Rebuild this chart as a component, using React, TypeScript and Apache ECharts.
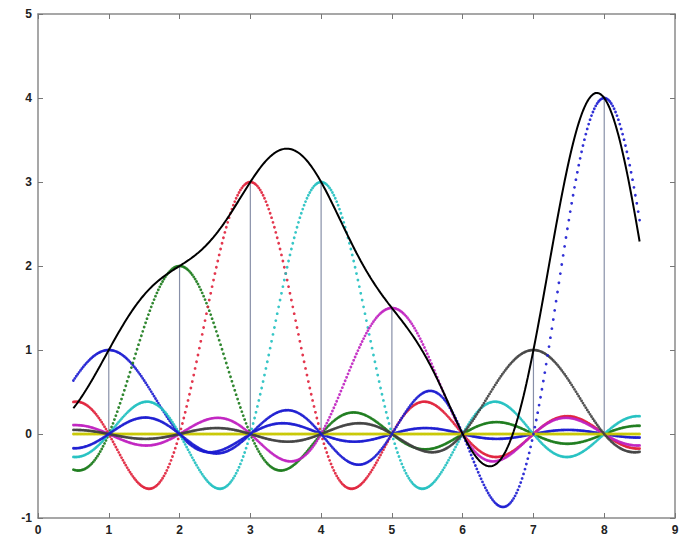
import React, { useEffect, useRef } from "react";
import * as echarts from "echarts";

// Sample positions and sample values (read from the stems)
const sampleX = [1, 2, 3, 4, 5, 6, 7, 8];
const sampleY = [1, 2, 3, 3, 1.5, 0, 1, 4];
// MATLAB classic colour order used for each sample's sinc component
const componentColors = ["#1a1ad0", "#1a7a1a", "#e0203a", "#20c0c0", "#c020c0", "#c8c800", "#404040", "#1a1ad0"];
// reconstruction range and resolution
const xStart = 0.5;
const xEnd = 8.5;
const xStep = 0.02;
const xTicks = [0, 1, 2, 3, 4, 5, 6, 7, 8, 9];
const yTicks = [-1, 0, 1, 2, 3, 4, 5];

const sinc = (t: number) => (Math.abs(t) < 1e-9 ? 1 : Math.sin(Math.PI * t) / (Math.PI * t));

export default function App() {
  const ref = useRef<HTMLDivElement>(null);
  useEffect(() => {
    if (!ref.current) return;
    const chart = echarts.init(ref.current, undefined, { renderer: "svg" });
    const n = Math.round((xEnd - xStart) / xStep);
    const xs: number[] = [];
    for (let i = 0; i <= n; i++) xs.push(+(xStart + i * xStep).toFixed(4));

    const components = sampleX.map((k, i) => xs.map((x) => [x, sampleY[i] * sinc(x - k)]));
    const sum = xs.map((x, j) => [x, components.reduce((s, c) => s + c[j][1], 0)]);

    const axisLabel = { color: "#222", fontSize: 12, fontFamily: "Liberation Sans, Arial, sans-serif", fontWeight: "bold" as const };
    const axisLine = { show: true, onZero: false, lineStyle: { color: "#8a8a8a", width: 1.5 } };
    const axisTick = { show: true, inside: true, length: 5, lineStyle: { color: "#777" } };

    const series: any[] = [];
    series.push({
      type: "custom",
      name: "stems",
      data: sampleX.map((x, i) => [x, sampleY[i]]),
      renderItem: (params: any, api: any) => {
        const p0 = api.coord([api.value(0), 0]);
        const p1 = api.coord([api.value(0), api.value(1)]);
        return {
          type: "line",
          shape: { x1: p0[0], y1: p0[1], x2: p1[0], y2: p1[1] },
          style: { stroke: "#8890a8", lineWidth: 1.2 },
        };
      },
      z: 1,
      silent: true,
    });
    components.forEach((data, i) => {
      series.push({
        type: "scatter",
        data,
        symbol: "circle",
        symbolSize: 2.8,
        itemStyle: { color: componentColors[i], opacity: 0.9 },
        z: 2,
        silent: true,
      });
    });
    series.push({
      type: "line",
      data: sum,
      showSymbol: false,
      lineStyle: { color: "#000", width: 2 },
      z: 3,
      silent: true,
    });

    chart.setOption({
      animation: false,
      backgroundColor: "#fff",
      grid: { left: 38, right: 7, top: 14, bottom: 19 },
      xAxis: [
        {
          type: "value", min: xTicks[0], max: xTicks[xTicks.length - 1], interval: 1,
          axisLine, axisTick, axisLabel: { ...axisLabel, margin: 6 }, splitLine: { show: false },
        },
        {
          type: "value", position: "top", min: xTicks[0], max: xTicks[xTicks.length - 1], interval: 1,
          axisLine, axisTick, axisLabel: { show: false }, splitLine: { show: false },
        },
      ],
      yAxis: [
        {
          type: "value", min: yTicks[0], max: yTicks[yTicks.length - 1], interval: 1,
          axisLine, axisTick, axisLabel: { ...axisLabel, margin: 6 }, splitLine: { show: false },
        },
        {
          type: "value", position: "right", min: yTicks[0], max: yTicks[yTicks.length - 1], interval: 1,
          axisLine, axisTick, axisLabel: { show: false }, splitLine: { show: false },
        },
      ],
      series,
    });
    return () => chart.dispose();
  }, []);
  return <div ref={ref} style={{ width: 682, height: 537, position: "absolute", left: 0, top: 0 }} />;
}
